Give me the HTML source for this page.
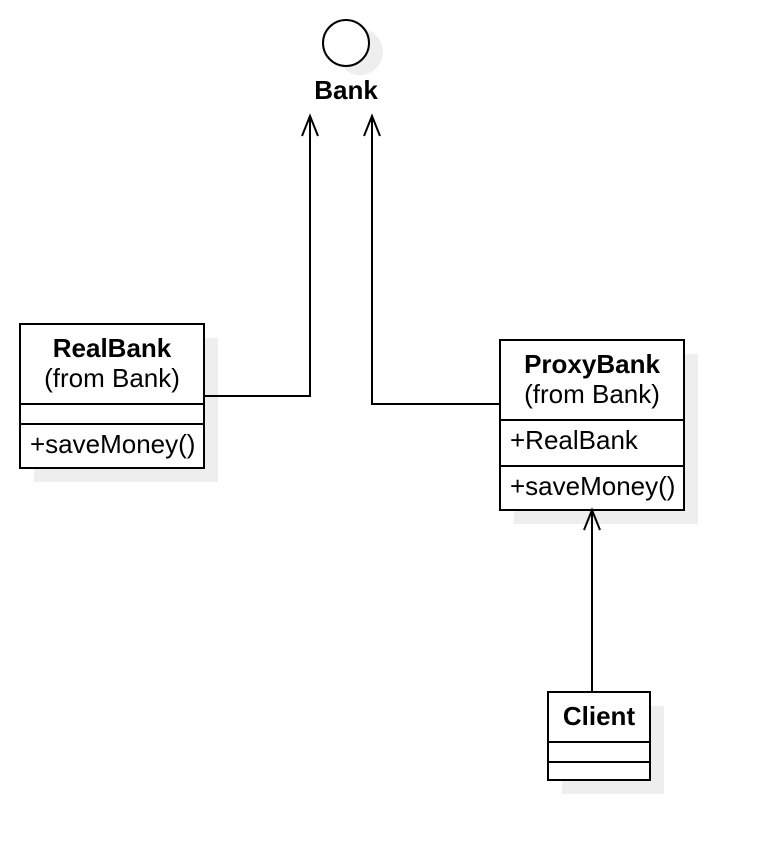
<!DOCTYPE html>
<html><head><meta charset="utf-8"><style>html,body{margin:0;padding:0;background:#fff}svg{display:block}</style></head>
<body>
<svg width="762" height="860" viewBox="0 0 762 860" xmlns="http://www.w3.org/2000/svg" font-family="Liberation Sans, sans-serif">
<circle cx="360" cy="52" r="23" fill="#eeeeee"/>
<circle cx="346" cy="43" r="23" fill="#fff" stroke="#000" stroke-width="2"/>
<text x="346" y="99" font-size="26" font-weight="bold" text-anchor="middle">Bank</text>
<rect x="34" y="338" width="184" height="144" fill="#eeeeee"/>
<rect x="20" y="324" width="184" height="144" fill="#fff" stroke="#000" stroke-width="2"/>
<line x1="20" y1="404" x2="204" y2="404" stroke="#000" stroke-width="2"/>
<line x1="20" y1="424" x2="204" y2="424" stroke="#000" stroke-width="2"/>
<text x="112" y="357" font-size="26" font-weight="bold" text-anchor="middle">RealBank</text>
<text x="112" y="387" font-size="26" text-anchor="middle">(from Bank)</text>
<text x="30" y="453" font-size="26">+saveMoney()</text>
<rect x="514" y="354" width="184" height="170" fill="#eeeeee"/>
<rect x="500" y="340" width="184" height="170" fill="#fff" stroke="#000" stroke-width="2"/>
<line x1="500" y1="420" x2="684" y2="420" stroke="#000" stroke-width="2"/>
<line x1="500" y1="466" x2="684" y2="466" stroke="#000" stroke-width="2"/>
<text x="592" y="373" font-size="26" font-weight="bold" text-anchor="middle">ProxyBank</text>
<text x="592" y="403" font-size="26" text-anchor="middle">(from Bank)</text>
<text x="510" y="449" font-size="26">+RealBank</text>
<text x="510" y="495" font-size="26">+saveMoney()</text>
<rect x="562" y="706" width="102" height="88" fill="#eeeeee"/>
<rect x="548" y="692" width="102" height="88" fill="#fff" stroke="#000" stroke-width="2"/>
<line x1="548" y1="742" x2="650" y2="742" stroke="#000" stroke-width="2"/>
<line x1="548" y1="762" x2="650" y2="762" stroke="#000" stroke-width="2"/>
<text x="599" y="725" font-size="26" font-weight="bold" text-anchor="middle">Client</text>
<g fill="none" stroke="#000" stroke-width="2">
<polyline points="204,396 310,396 310,117"/>
<polyline points="302,136 310,116 318,136"/>
<polyline points="500,404 372,404 372,117"/>
<polyline points="364,136 372,116 380,136"/>
<line x1="592" y1="692" x2="592" y2="511"/>
<polyline points="584,530 592,510 600,530"/>
</g>
</svg>
</body></html>
